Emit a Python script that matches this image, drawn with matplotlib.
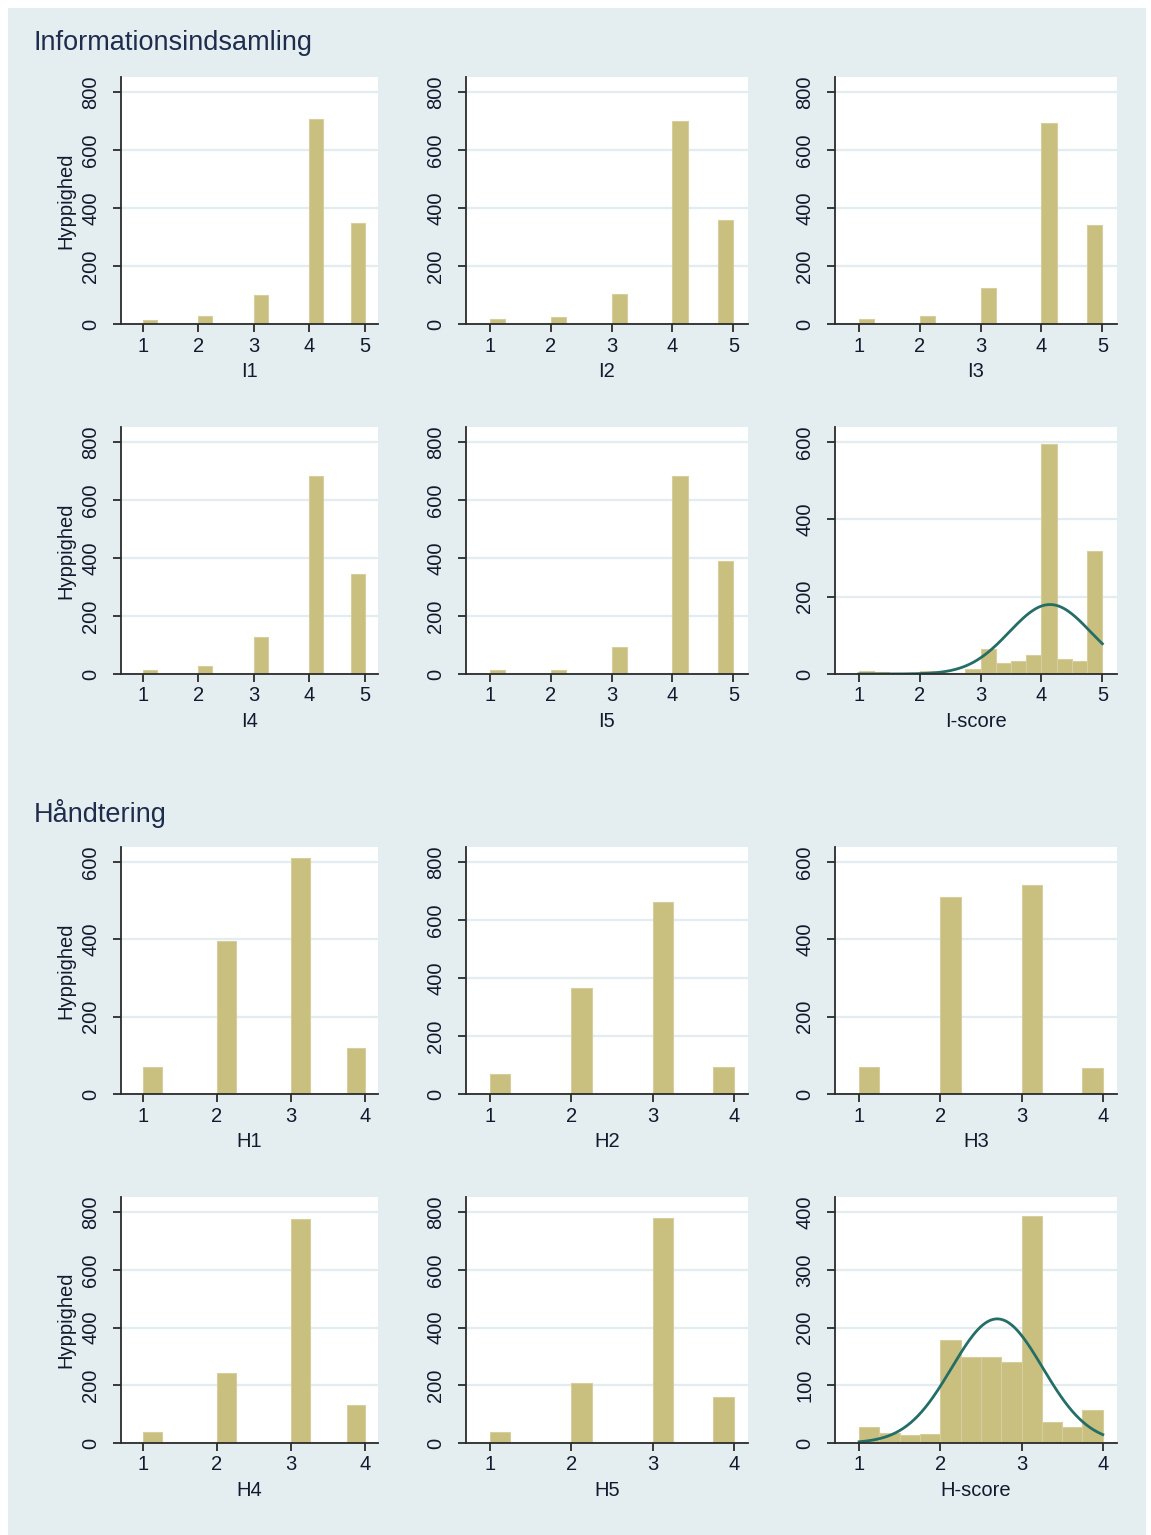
import numpy as np
import matplotlib.pyplot as plt
from matplotlib.patches import Rectangle

plt.rcParams['font.family'] = ['Liberation Sans', 'DejaVu Sans']

# item histograms: count at each answer value
i_values = [1, 2, 3, 4, 5]
i1_counts = [14, 28, 100, 706, 347]
i2_counts = [16, 23, 102, 700, 359]
i3_counts = [16, 29, 123, 694, 340]
i4_counts = [14, 28, 129, 684, 345]
i5_counts = [15, 15, 94, 684, 391]

h_values = [1, 2, 3, 4]
h1_counts = [71, 395, 610, 118]
h2_counts = [68, 365, 663, 94]
h3_counts = [71, 510, 541, 66]
h4_counts = [38, 243, 777, 132]
h5_counts = [38, 208, 779, 159]

# score histograms, bins of width 0.25
bin_width = 0.25
iscore_counts = [9, 4, 0, 3, 8, 2, 2, 14, 64, 28, 33, 48, 595, 40, 33, 319]
hscore_counts = [28, 17, 13, 16, 179, 149, 149, 140, 393, 37, 28, 58]
iscore_mean, iscore_sd = 4.14, 0.667
hscore_mean, hscore_sd = 2.70, 0.56

bar_color = '#C9BF7F'
curve_color = '#246E67'
text_color = '#141a2e'
bg_color = '#E4EDF0'
grid_color = '#E3ECEF'
fs = 14.5

W, H = 1151, 1535
fig = plt.figure(figsize=(W / 100, H / 100), dpi=100)
fig.patch.set_facecolor('white')
fig.add_artist(Rectangle((8 / W, 0), (1146 - 8) / W, 1 - 8 / H,
                         transform=fig.transFigure, facecolor=bg_color,
                         edgecolor='none', zorder=-10))

cols = [(121, 378), (466, 748), (835, 1117)]
rows = [(77, 324), (427, 674), (847, 1094), (1197, 1443)]


def make_ax(r, c):
    x0, x1 = cols[c]
    y0, y1 = rows[r]
    ax = fig.add_axes([x0 / W, 1 - y1 / H, (x1 - x0) / W, (y1 - y0) / H])
    ax.set_facecolor('white')
    for s in ['top', 'right']:
        ax.spines[s].set_visible(False)
    for s in ['left', 'bottom']:
        ax.spines[s].set_color('#2b2b2b')
        ax.spines[s].set_linewidth(1.3)
    ax.tick_params(axis='both', direction='out', length=6, width=1.3,
                   color='#2b2b2b', labelsize=fs, labelcolor=text_color)
    ax.tick_params(axis='y', pad=9)
    ax.tick_params(axis='x', pad=3)
    ax.yaxis.grid(True, color=grid_color, lw=1.6)
    ax.set_axisbelow(True)
    return ax


def style_y(ax, top_tick, step):
    ticks = np.arange(0, top_tick + 1, step)
    ax.set_yticks(ticks)
    ax.set_yticklabels([str(t) for t in ticks], rotation=90, va='center')
    ax.set_ylim(0, top_tick * 1.065)


def item_hist(ax, values, counts, label, top_tick, ylab):
    k = max(values)
    edges = np.arange(1, k + bin_width / 2, bin_width)
    ax.hist(values, bins=edges, weights=counts, color=bar_color,
            edgecolor='#D6CE9E', linewidth=0.8)
    ax.set_xticks(values)
    ax.set_xlim(1 - 0.37 * (k - 1) / 4 - 0.02, k + 0.26 * (k - 1) / 4 - 0.02)
    style_y(ax, top_tick, 200)
    ax.set_xlabel(label, fontsize=fs, color=text_color, labelpad=5)
    if ylab:
        ax.set_ylabel('Hyppighed', fontsize=fs, color=text_color, labelpad=4)


def score_hist(ax, counts, k, mean, sd, label, top_tick, step):
    edges = np.arange(1, k + bin_width / 2, bin_width)
    ax.hist(edges[:-1], bins=edges, weights=counts, color=bar_color,
            edgecolor='#D6CE9E', linewidth=0.8)
    n = sum(counts)
    xs = np.linspace(1, k, 200)
    ys = n * bin_width * np.exp(-(xs - mean) ** 2 / (2 * sd ** 2)) / (sd * np.sqrt(2 * np.pi))
    ax.plot(xs, ys, color=curve_color, lw=2)
    ax.set_xticks(range(1, k + 1))
    ax.set_xlim(1 - 0.37 * (k - 1) / 4 - 0.02, k + 0.26 * (k - 1) / 4 - 0.02)
    style_y(ax, top_tick, step)
    ax.set_xlabel(label, fontsize=fs, color=text_color, labelpad=5)


item_hist(make_ax(0, 0), i_values, i1_counts, 'I1', 800, True)
item_hist(make_ax(0, 1), i_values, i2_counts, 'I2', 800, False)
item_hist(make_ax(0, 2), i_values, i3_counts, 'I3', 800, False)
item_hist(make_ax(1, 0), i_values, i4_counts, 'I4', 800, True)
item_hist(make_ax(1, 1), i_values, i5_counts, 'I5', 800, False)
score_hist(make_ax(1, 2), iscore_counts, 5, iscore_mean, iscore_sd, 'I-score', 600, 200)

item_hist(make_ax(2, 0), h_values, h1_counts, 'H1', 600, True)
item_hist(make_ax(2, 1), h_values, h2_counts, 'H2', 800, False)
item_hist(make_ax(2, 2), h_values, h3_counts, 'H3', 600, False)
item_hist(make_ax(3, 0), h_values, h4_counts, 'H4', 800, True)
item_hist(make_ax(3, 1), h_values, h5_counts, 'H5', 800, False)
score_hist(make_ax(3, 2), hscore_counts, 4, hscore_mean, hscore_sd, 'H-score', 400, 100)

fig.text(34 / W, 1 - 43 / H, 'Informationsindsamling', fontsize=19.5,
         color='#1F2D4D', va='center', ha='left')
fig.text(34 / W, 1 - 813 / H, 'Håndtering', fontsize=19.5,
         color='#1F2D4D', va='center', ha='left')

fig.savefig('out.png', dpi=100, facecolor='white')
